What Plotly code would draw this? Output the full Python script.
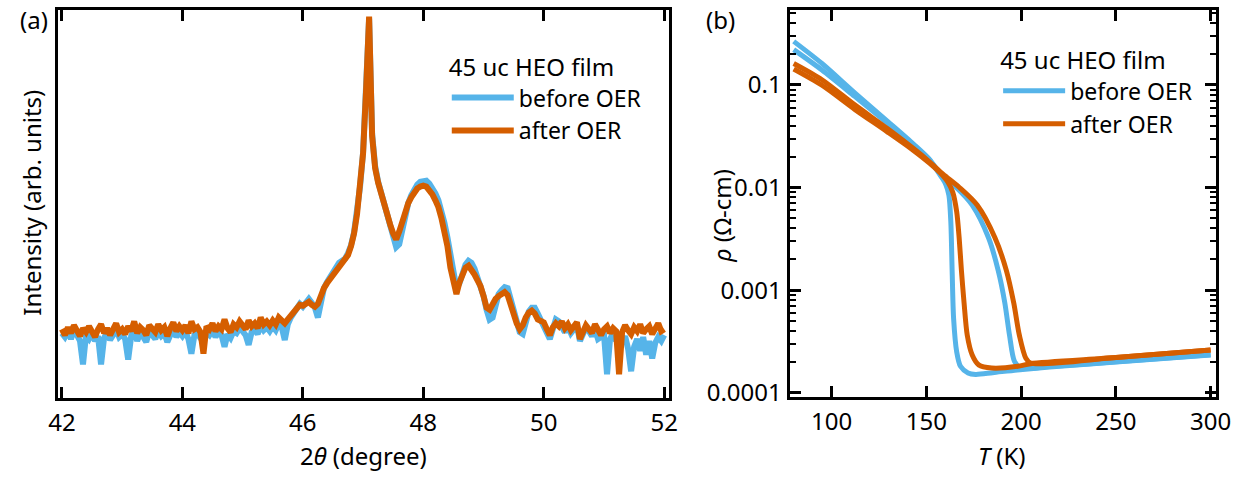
import numpy as np
import plotly.graph_objects as go

BLUE = "#56B4E9"
ORANGE = "#D55E00"
FONT = "Noto Sans, Open Sans, sans-serif"

# ---------------- panel (a): XRD 2theta scan ----------------
two_theta = np.round(np.arange(42.0, 52.0001, 0.05), 2)

xrd_before = [
    66, 62, 68, 60, 70, 65, 58, 34, 64, 60,
    66, 58, 63, 34, 61, 67, 59, 64, 70, 62,
    65, 60, 39, 63, 70, 58, 66, 62, 57, 68,
    64, 60, 68, 63, 66, 57, 64, 70, 62, 67,
    63, 68, 60, 45, 64, 66, 61, 58, 67, 64,
    69, 62, 67, 64, 52, 65, 61, 68, 66, 71,
    68, 64, 54, 67, 70, 65, 74, 69, 72, 68,
    73, 69, 76, 72, 59, 75, 82, 87, 92, 96,
    93, 97, 101, 97, 92, 82, 98, 112, 118, 123,
    130, 134, 138, 140, 142, 148, 156, 169, 189, 216,
    251, 316, 388, 270, 237, 221, 209, 197, 184, 172,
    163, 154, 157, 172, 188, 199, 207, 213, 218, 221,
    222, 222, 219, 215, 209, 202, 192, 179, 164, 144,
    125, 112, 117, 128, 136, 140, 138, 132, 124, 116,
    104, 90, 80, 82, 98, 106, 110, 113, 112, 100,
    88, 78, 67, 65, 78, 88, 92, 92, 86, 80,
    74, 67, 60, 70, 80, 78, 72, 67, 73, 66,
    70, 74, 58, 66, 72, 68, 63, 70, 60, 62,
    64, 24, 60, 66, 58, 62, 55, 63, 50, 27,
    52, 60, 48, 62, 44, 58, 40, 56, 62, 58,
    64,
]

xrd_after = [
    70, 64, 72, 66, 74, 69, 63, 71, 67, 73,
    68, 62, 70, 75, 66, 71, 64, 69, 76, 67,
    70, 65, 73, 68, 78, 66, 72, 69, 64, 74,
    70, 67, 75, 69, 72, 63, 71, 77, 68, 73,
    69, 74, 66, 78, 70, 72, 67, 45, 73, 70,
    76, 68, 73, 70, 80, 71, 67, 75, 72, 78,
    74, 70, 79, 73, 76, 71, 82, 75, 78, 74,
    79, 75, 82, 78, 76, 80, 84, 88, 93, 95,
    94, 96, 98, 95, 93, 96, 106, 112, 117, 121,
    126, 130, 134, 137, 140, 146, 155, 168, 188, 215,
    250, 315, 390, 268, 235, 220, 208, 198, 187, 177,
    168, 162, 170, 181, 191, 199, 205, 210, 214, 216,
    217, 216, 213, 208, 202, 195, 184, 170, 155, 133,
    115, 106, 118, 127, 133, 135, 131, 126, 120, 114,
    104, 92, 90, 96, 101, 104, 106, 108, 105, 95,
    84, 76, 70, 74, 82, 87, 89, 86, 80, 78,
    77, 70, 64, 72, 76, 73, 78, 71, 75, 69,
    72, 77, 60, 68, 74, 70, 66, 75, 69, 64,
    70, 73, 66, 71, 68, 24, 67, 74, 69, 65,
    72, 68, 75, 66, 70, 73, 65, 71, 76, 68,
    70,
]

# ---------------- panel (b): resistivity vs T ----------------
blue_cool_T = [300, 250, 215, 198, 185, 176, 172, 168, 166, 164.4, 163.6, 162.9,
               161.9, 160.2, 157.8, 151.8, 143.2, 129.4, 112.2, 94.9, 80]
blue_cool_rho = [2.33e-4, 1.99e-4, 1.78e-4, 1.67e-4, 1.57e-4, 1.51e-4, 1.56e-4, 1.81e-4,
                 2.51e-4, 5.21e-4, 1.56e-3, 4.68e-3, 8.39e-3, 1.08e-2, 1.28e-2, 1.83e-2,
                 2.59e-2, 4.26e-2, 7.74e-2, 0.140, 0.221]
blue_warm_T = [80, 94.9, 112.2, 129.4, 143.2, 151.8, 157.8, 165.6, 174.2, 182.8, 187.9,
               191.4, 193.9, 196.5, 199.9, 215, 250, 300]
blue_warm_rho = [0.266, 0.162, 0.0839, 0.0445, 0.0266, 0.01875, 0.0132, 0.0101, 6.75e-3,
                 3.24e-3, 1.56e-3, 7.52e-4, 3.62e-4, 2.02e-4, 1.74e-4, 1.80e-4, 2.00e-4, 2.34e-4]

orange_cool_T = [300, 250, 205, 198.3, 184.5, 177.6, 174.2, 171.6, 169.9, 168.5, 167.3,
                 166.0, 163.9, 161.4, 158.8, 151.8, 143.2, 129.4, 112.2, 94.9, 80]
orange_cool_rho = [2.61e-4, 2.20e-4, 1.92e-4, 1.81e-4, 1.74e-4, 1.87e-4, 2.33e-4, 3.62e-4,
                   7.52e-4, 1.56e-3, 3.24e-3, 5.82e-3, 9.03e-3, 1.125e-2, 1.30e-2, 1.718e-2,
                   2.30e-2, 3.49e-2, 5.78e-2, 9.93e-2, 0.143]
orange_warm_T = [80, 94.9, 112.2, 129.4, 143.2, 151.8, 158.8, 167.3, 176.8, 186.2, 192.2,
                 196.1, 199.1, 202.5, 205.1, 250, 300]
orange_warm_rho = [0.162, 0.1125, 0.0640, 0.0376, 0.0240, 0.0177, 0.01349, 0.01007, 6.75e-3,
                   3.24e-3, 1.56e-3, 7.52e-4, 3.62e-4, 2.17e-4, 1.945e-4, 2.20e-4, 2.61e-4]

series_names = ["before OER", "after OER"]
legend_title = "45 uc HEO film"

W, H = 1257, 477
FS = 24

fig = go.Figure()
fig.add_trace(go.Scatter(x=two_theta, y=xrd_before, mode="lines", name=series_names[0],
                         line=dict(color=BLUE, width=6), xaxis="x", yaxis="y", legend="legend"))
fig.add_trace(go.Scatter(x=two_theta, y=xrd_after, mode="lines", name=series_names[1],
                         line=dict(color=ORANGE, width=6), xaxis="x", yaxis="y", legend="legend"))

rt_sets = [
    (blue_cool_T, blue_cool_rho, BLUE, series_names[0], True),
    (blue_warm_T, blue_warm_rho, BLUE, series_names[0], False),
    (orange_cool_T, orange_cool_rho, ORANGE, series_names[1], True),
    (orange_warm_T, orange_warm_rho, ORANGE, series_names[1], False),
]
for tx, ry, col, nm, show in rt_sets:
    fig.add_trace(go.Scatter(x=tx, y=ry, mode="lines", name=nm, legendgroup=nm, showlegend=show,
                             line=dict(color=col, width=5, shape="spline", smoothing=0.8),
                             xaxis="x2", yaxis="y2", legend="legend2"))

axis_common = dict(showline=True, linewidth=3, linecolor="black", showgrid=False, zeroline=False,
                   ticks="inside", ticklen=11, tickwidth=2.5, tickcolor="black", mirror="ticks",
                   tickfont=dict(size=FS, color="black", family=FONT))

minor_vals = [k * 10.0 ** e for e in range(-4, 0) for k in range(2, 10)]

legend_common = dict(xanchor="left", yanchor="top", bgcolor="rgba(0,0,0,0)", borderwidth=0,
                     font=dict(size=23, family=FONT, color="black"), tracegroupgap=0,
                     itemwidth=62,
                     title=dict(text=legend_title, font=dict(size=24, family=FONT, color="black")))

fig.update_layout(
    width=W, height=H, margin=dict(l=0, r=0, t=0, b=0),
    paper_bgcolor="white", plot_bgcolor="white",
    font=dict(family=FONT, size=FS, color="black"),
    xaxis=dict(domain=[49 / W, 673 / W], range=[41.935, 52.08], tickvals=[42, 44, 46, 48, 50, 52],
               anchor="y", ticklabelstandoff=2, **axis_common),
    yaxis=dict(domain=[1 - 407 / H, 1 - 10 / H], range=[0, 397], showticklabels=False,
               showline=True, linewidth=3, linecolor="black", mirror=True, ticks="",
               showgrid=False, zeroline=False, anchor="x"),
    xaxis2=dict(domain=[796 / W, 1231 / W], range=[77.8, 302.6], tickvals=[100, 150, 200, 250, 300],
                anchor="y2", ticklabelstandoff=2, **axis_common),
    yaxis2=dict(domain=[1 - 406 / H, 1 - 10 / H], type="log", range=[-4.038, -0.267], anchor="x2",
                tickvals=[1e-4, 1e-3, 1e-2, 1e-1], ticktext=["0.0001", "0.001", "0.01", "0.1"],
                minor=dict(tickvals=minor_vals, ticks="inside", ticklen=6, tickwidth=2,
                           tickcolor="black"),
                **axis_common),
    legend=dict(x=446 / W, y=1 - 46 / H, **legend_common),
    legend2=dict(x=1009 / W, y=1 - 39 / H, **legend_common),
    annotations=[
        dict(text="(a)", x=8 / W, y=1 - 20 / H, xref="paper", yref="paper", xanchor="left",
             yanchor="middle", showarrow=False, font=dict(size=FS)),
        dict(text="(b)", x=709 / W, y=1 - 20 / H, xref="paper", yref="paper", xanchor="left",
             yanchor="middle", showarrow=False, font=dict(size=FS)),
        dict(text="Intensity (arb. units)", x=22 / W, y=1 - 208 / H, xref="paper", yref="paper",
             xanchor="center", yanchor="middle", textangle=-90, showarrow=False, font=dict(size=FS)),
        dict(text="2<i>θ</i> (degree)", x=361 / W, y=1 - 466 / H, xref="paper", yref="paper",
             xanchor="center", yanchor="middle", showarrow=False, font=dict(size=FS)),
        dict(text="<i>ρ</i> (Ω-cm)", x=727 / W, y=1 - 221 / H, xref="paper", yref="paper",
             xanchor="center", yanchor="middle", textangle=-90, showarrow=False, font=dict(size=FS)),
        dict(text="<i>T</i> (K)", x=1013 / W, y=1 - 466 / H, xref="paper", yref="paper",
             xanchor="center", yanchor="middle", showarrow=False, font=dict(size=FS)),
    ],
)

fig.write_html("out.html")
